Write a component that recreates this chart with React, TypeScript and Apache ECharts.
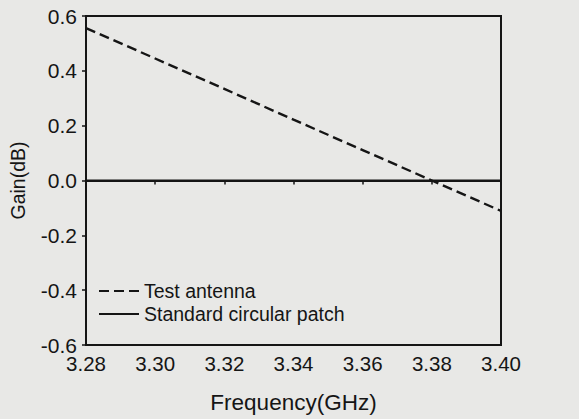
import React, { useEffect, useRef } from "react";
import * as echarts from "echarts";

const freqGHz = [3.28, 3.3, 3.32, 3.34, 3.36, 3.38, 3.4];
const testAntennaGain = [0.556, 0.445, 0.334, 0.222, 0.111, 0.0, -0.111];
const standardPatchFreq = [3.28, 3.4];
const standardPatchGain = [0.0, 0.0];
const seriesNames = ["Test antenna", "Standard circular patch"];

export default function App() {
  const ref = useRef<HTMLDivElement>(null);
  useEffect(() => {
    document.body.style.margin = "0";
    const chart = echarts.init(ref.current!, null, { renderer: "svg" });
    const font = "Liberation Sans, Arial, sans-serif";
    const ink = "#151515";
    chart.setOption({
      animation: false,
      backgroundColor: "#e8e8e6",
      textStyle: { fontFamily: font, color: ink },
      grid: {
        left: 80,
        right: 78,
        top: 16,
        bottom: 73,
        show: true,
        borderColor: ink,
        borderWidth: 2,
        backgroundColor: "transparent",
      },
      legend: {
        orient: "vertical",
        left: 93,
        top: 276,
        itemWidth: 40,
        itemHeight: 10,
        itemGap: 3,
        itemStyle: { color: "transparent", borderColor: "transparent", borderWidth: 0, opacity: 0 },
        textStyle: { fontFamily: font, fontSize: 19.5, color: ink },
        data: seriesNames,
      },
      xAxis: {
        type: "value",
        min: 3.28,
        max: 3.4,
        interval: 0.02,
        name: "Frequency(GHz)",
        nameLocation: "middle",
        nameGap: 46,
        nameTextStyle: { fontFamily: font, fontSize: 22.5, color: ink },
        axisLine: { show: true, lineStyle: { color: ink, width: 2 } },
        axisTick: { show: true, inside: false, length: 4, lineStyle: { color: ink, width: 1.5 } },
        axisLabel: {
          margin: 8,
          fontSize: 20.5,
          color: ink,
          fontFamily: font,
          formatter: (v: number) => v.toFixed(2),
        },
        splitLine: { show: false },
      },
      yAxis: {
        type: "value",
        min: -0.6,
        max: 0.6,
        interval: 0.2,
        name: "Gain(dB)",
        nameLocation: "middle",
        nameGap: 58,
        nameTextStyle: { fontFamily: font, fontSize: 19.5, color: ink },
        axisLine: { show: true, lineStyle: { color: ink, width: 2 } },
        axisTick: { show: true, inside: false, length: 4, lineStyle: { color: ink, width: 1.5 } },
        axisLabel: {
          margin: 9,
          fontSize: 21,
          color: ink,
          fontFamily: font,
          formatter: (v: number) => (Math.abs(v) < 1e-9 ? 0 : v).toFixed(1),
        },
        splitLine: { show: false },
      },
      series: [
        {
          name: seriesNames[0],
          type: "line",
          symbol: "none",
          data: freqGHz.map((f, i) => [f, testAntennaGain[i]]),
          lineStyle: { color: ink, width: 2.4, type: [10, 5] },
          itemStyle: { color: ink },
        },
        {
          name: seriesNames[1],
          type: "line",
          symbol: "none",
          data: standardPatchFreq.map((f, i) => [f, standardPatchGain[i]]),
          lineStyle: { color: ink, width: 2, type: "solid" },
          itemStyle: { color: ink },
        },
      ],
    });
    return () => chart.dispose();
  }, []);
  return <div ref={ref} style={{ width: 579, height: 419 }} />;
}
